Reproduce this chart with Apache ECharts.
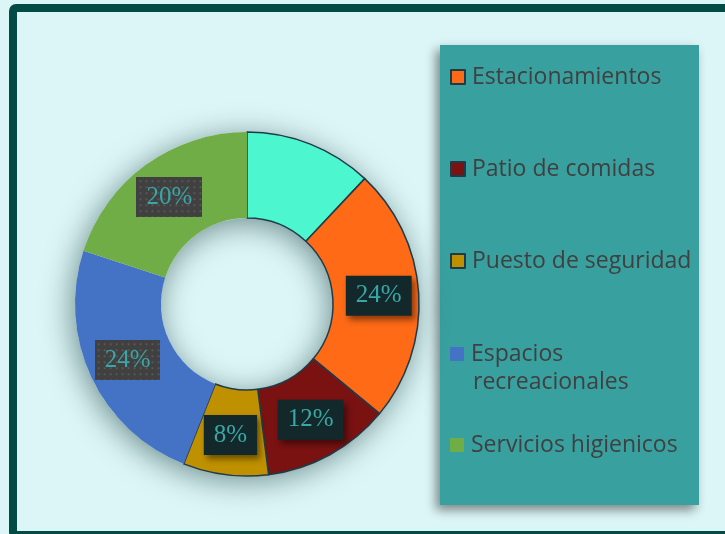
<!DOCTYPE html>
<html>
<head>
<meta charset="utf-8">
<script src="https://cdn.jsdelivr.net/npm/echarts@6/dist/echarts.min.js"></script>
<style>
html, body { margin: 0; padding: 0; background: #dcf5f6; }
#main { width: 725px; height: 534px; }
</style>
</head>
<body>
<div id="main"></div>
<script>
// datos del grafico
var names = ['', 'Estacionamientos', 'Patio de comidas', 'Puesto de seguridad', 'Espacios recreacionales', 'Servicios higienicos'];
var values = [12, 24, 12, 8, 24, 20];
var colors = ['#4cf7d0', '#fe6a16', '#7a1212', '#bf9000', '#4472c4', '#70ad47'];
var legendNames = ['Estacionamientos', 'Patio de comidas', 'Puesto de seguridad', 'Espacios recreacionales', 'Servicios higienicos'];

// fondo punteado para las etiquetas gris
function dots(w, h) {
    var c = document.createElement('canvas');
    c.width = w;
    c.height = h;
    var ctx = c.getContext('2d');
    ctx.fillStyle = '#404040';
    ctx.fillRect(0, 0, w, h);
    ctx.fillStyle = '#575757';
    for (var y = 3; y < h; y += 6) {
        for (var x = 3; x < w; x += 6) {
            ctx.fillRect(x, y, 2, 2);
        }
    }
    return c;
}
var dotBg = dots(66, 40);

var labelBase = {
    show: true,
    position: 'inside',
    formatter: '{d}%',
    fontFamily: 'Liberation Serif',
    fontSize: 25,
    lineHeight: 24,
    color: '#3aa6a6',
    padding: [8, 10],
    shadowBlur: 6,
    shadowOffsetX: 3,
    shadowOffsetY: 4,
    shadowColor: 'rgba(0,0,0,0.45)'
};

var pieData = [];
for (var i = 0; i < values.length; i++) {
    var item = {
        name: names[i],
        value: values[i],
        itemStyle: { color: colors[i] }
    };
    if (i <= 3) {
        item.itemStyle.borderColor = '#1f3b4a';
        item.itemStyle.borderWidth = 1.5;
    } else {
        item.itemStyle.borderWidth = 0;
    }
    if (i == 0) {
        item.label = { show: false };
    } else if (i <= 3) {
        item.label = Object.assign({}, labelBase, { backgroundColor: '#13282a' });
    } else {
        item.label = Object.assign({}, labelBase, { backgroundColor: { image: dotBg } });
    }
    pieData.push(item);
}

var legendTops = [65, 157, 249, 342, 433];
var legends = [];
for (var j = 0; j < legendNames.length; j++) {
    legends.push({
        data: [legendNames[j]],
        left: 450,
        top: legendTops[j],
        padding: 0,
        itemWidth: 14,
        itemHeight: 14,
        itemGap: 8,
        icon: 'rect',
        selectedMode: false,
        formatter: function (name) {
            return name.split(' ')[0] == 'Espacios' ? 'Espacios' : name;
        },
        textStyle: {
            fontFamily: 'Open Sans',
            fontSize: 23,
            lineHeight: 24,
            color: '#404040',
            padding: [0, 0, 0, 2]
        }
    });
}

var chart = echarts.init(document.getElementById('main'));
chart.setOption({
    animation: false,
    backgroundColor: '#dcf5f6',
    graphic: [
        {
            type: 'rect',
            z: -10,
            shape: { x: 13, y: 8, width: 740, height: 527, r: 3 },
            style: { fill: '#dcf5f6', stroke: '#034b45', lineWidth: 8 }
        },
        {
            type: 'rect',
            z: -5,
            shape: { x: 440, y: 45, width: 259, height: 460 },
            style: {
                fill: '#38a09f',
                shadowBlur: 10,
                shadowOffsetX: -4,
                shadowOffsetY: 5,
                shadowColor: 'rgba(0,0,0,0.45)'
            }
        },
        {
            type: 'text',
            z: 10,
            left: 473,
            top: 371,
            style: {
                text: legendNames[3].split(' ')[1],
                font: '23px "Open Sans"',
                fill: '#404040'
            }
        }
    ],
    legend: legends,
    series: [
        {
            // sombra del anillo
            type: 'pie',
            silent: true,
            center: [247, 304],
            radius: [86, 172],
            label: { show: false },
            labelLine: { show: false },
            itemStyle: {
                color: '#dcf5f6',
                shadowBlur: 30,
                shadowOffsetX: -3,
                shadowOffsetY: 5,
                shadowColor: 'rgba(0,40,40,0.5)'
            },
            data: [{ name: 'sombra', value: 1 }]
        },
        {
            type: 'pie',
            center: [247, 304],
            radius: [86, 172],
            startAngle: 90,
            clockwise: true,
            avoidLabelOverlap: false,
            emphasis: { disabled: true },
            labelLine: { show: false },
            data: pieData
        }
    ]
});
</script>
</body>
</html>
